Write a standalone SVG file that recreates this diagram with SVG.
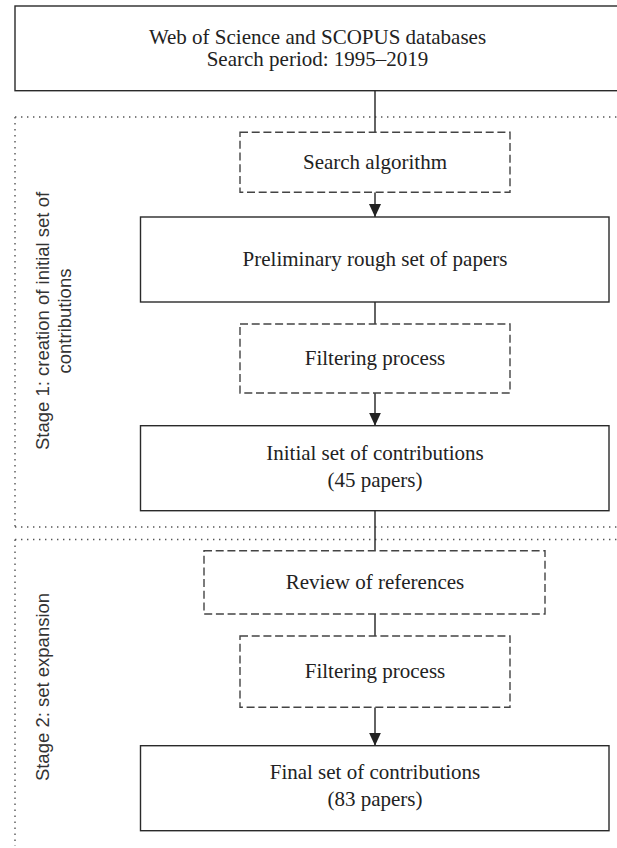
<svg xmlns="http://www.w3.org/2000/svg" width="617" height="848" viewBox="0 0 617 848">
<defs>
<marker id="arr" viewBox="0 0 13 12" refX="13" refY="6" markerWidth="13" markerHeight="12" markerUnits="userSpaceOnUse" orient="auto">
<path d="M0,0 L13,6 L0,12 Z" fill="#222"/>
</marker>
</defs>
<style>
.solid{fill:#fff;stroke:#2a2a2a;stroke-width:1.4}
.dash{fill:#fff;stroke:#444;stroke-width:1.4;stroke-dasharray:8 3.7}
.dot{fill:none;stroke:#555;stroke-width:1.4;stroke-dasharray:1.4 4.6}
.t{font-family:"Liberation Serif","Times New Roman",serif;font-size:21px;fill:#222;text-anchor:middle}
.s{font-family:"Liberation Sans",Arial,sans-serif;font-size:18.5px;fill:#333;text-anchor:middle}
.c{stroke:#222;stroke-width:1.4;fill:none}
</style>
<rect width="617" height="848" fill="#fff"/>
<g id="stages">
<path class="dot" d="M15,117 H617 M15,117 V527 M15,527 H617"/>
<path class="dot" d="M15,539.5 H617 M15,539.5 V846"/>
<text class="s" transform="translate(49,321) rotate(-90)">Stage 1: creation of initial set of</text>
<text class="s" transform="translate(71,321) rotate(-90)">contributions</text>
<text class="s" transform="translate(49,687) rotate(-90)">Stage 2: set expansion</text>
</g>
<g id="connectors">
<path class="c" d="M375,90.7 V132.3"/>
<path class="c" d="M375,192.3 V217" marker-end="url(#arr)"/>
<path class="c" d="M375,302 V324"/>
<path class="c" d="M375,393 V425.7" marker-end="url(#arr)"/>
<path class="c" d="M375,510.7 V550.7"/>
<path class="c" d="M375,614 V636"/>
<path class="c" d="M375,707.3 V745.7" marker-end="url(#arr)"/>
</g>
<g id="n1">
<rect class="solid" x="15" y="6" width="610" height="84.7"/>
<text class="t" x="317.5" y="44">Web of Science and SCOPUS databases</text>
<text class="t" x="317.5" y="66">Search period: 1995–2019</text>
</g>
<g id="n2">
<rect class="dash" x="240" y="132.3" width="270" height="60"/>
<text class="t" x="375" y="169">Search algorithm</text>
</g>
<g id="n3">
<rect class="solid" x="140.5" y="217" width="468.5" height="85"/>
<text class="t" x="375" y="266">Preliminary rough set of papers</text>
</g>
<g id="n4">
<rect class="dash" x="240" y="324" width="270" height="69"/>
<text class="t" x="375" y="365">Filtering process</text>
</g>
<g id="n5">
<rect class="solid" x="140.5" y="425.7" width="468.5" height="85"/>
<text class="t" x="375" y="460">Initial set of contributions</text>
<text class="t" x="375" y="487">(45 papers)</text>
</g>
<g id="n6">
<rect class="dash" x="204" y="550.7" width="341" height="63.3"/>
<text class="t" x="375" y="589">Review of references</text>
</g>
<g id="n7">
<rect class="dash" x="240" y="636" width="270" height="71.3"/>
<text class="t" x="375" y="678">Filtering process</text>
</g>
<g id="n8">
<rect class="solid" x="140.5" y="745.7" width="468.5" height="85"/>
<text class="t" x="375" y="779">Final set of contributions</text>
<text class="t" x="375" y="806">(83 papers)</text>
</g>
</svg>
